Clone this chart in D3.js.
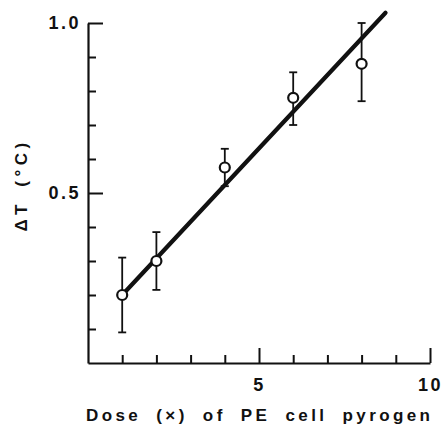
<!DOCTYPE html>
<html>
<head>
<meta charset="utf-8">
<script src="https://cdn.jsdelivr.net/npm/d3@7"></script>
<style>
	body { margin: 0; background: #fff; }
	text { font-family: 'Liberation Sans', Arial, sans-serif; font-weight: bold; fill: #111; }
</style>
</head>
<body>
<div id="chart"></div>
<script>
// Dose (x) vs fever response
const dose = [1, 2, 4, 6, 8];
const meanDT = [0.2, 0.3, 0.575, 0.78, 0.88];
const upperDT = [0.31, 0.385, 0.63, 0.855, 1.0];
const lowerDT = [0.09, 0.215, 0.52, 0.7, 0.77];
// regression line end points
const fitX = [1, 8.7];
const fitY = [0.2, 1.03];
const xTicks = [1, 2, 3, 4, 5, 6, 7, 8, 9, 10];
const yTicks = [0.1, 0.2, 0.3, 0.4, 0.5, 0.6, 0.7, 0.8, 0.9, 1.0];
const xLabels = [5, 10];
const yLabels = [0.5, 1.0];

const width = 444, height = 424;
const svg = d3.select('#chart').append('svg')
	.attr('width', width)
	.attr('height', height);

const x = d3.scaleLinear().domain([0, 10]).range([88, 430]);
const y = d3.scaleLinear().domain([0, 1]).range([363, 23]);

// Axes
const xAxis = d3.axisBottom(x)
	.tickValues(xTicks)
	.tickSize(-8)
	.tickSizeOuter(0)
	.tickPadding(15)
	.tickFormat(d => (xLabels.includes(d) ? d : ''));
const gx = svg.append('g')
	.attr('transform', 'translate(0,' + y(0) + ')')
	.call(xAxis);

const yAxis = d3.axisLeft(y)
	.tickValues(yTicks)
	.tickSize(-8)
	.tickSizeOuter(0)
	.tickPadding(7)
	.tickFormat(d => (yLabels.some(v => Math.abs(v - d) < 1e-9) ? d3.format('.1f')(d) : ''));
const gy = svg.append('g')
	.attr('transform', 'translate(' + x(0) + ',0)')
	.call(yAxis);

[gx, gy].forEach(g => {
	g.select('.domain').attr('stroke', '#111').attr('stroke-width', 2.2);
	g.selectAll('.tick line').attr('stroke', '#111').attr('stroke-width', 2);
	g.selectAll('.tick text')
		.style('font-size', '18px')
		.style('letter-spacing', '2.5px')
		.attr('fill', '#111');
});
gx.selectAll('.tick').filter(d => xLabels.includes(d)).select('line').attr('y2', -15);
gy.selectAll('.tick').filter(d => yLabels.some(v => Math.abs(v - d) < 1e-9)).select('line').attr('x2', 15);

// Fitted line
svg.append('path')
	.datum(fitX.map((d, i) => [d, fitY[i]]))
	.attr('d', d3.line().x(d => x(d[0])).y(d => y(d[1])))
	.attr('fill', 'none')
	.attr('stroke', '#111')
	.attr('stroke-width', 4.2)
	.attr('stroke-linecap', 'round');

// Error bars
const pts = svg.append('g');
dose.forEach((d, i) => {
	const g = pts.append('g').attr('stroke', '#111').attr('stroke-width', 1.8);
	g.append('line')
		.attr('x1', x(d)).attr('x2', x(d))
		.attr('y1', y(upperDT[i])).attr('y2', y(lowerDT[i]));
	[upperDT[i], lowerDT[i]].forEach(v => {
		g.append('line')
			.attr('x1', x(d) - 4).attr('x2', x(d) + 4)
			.attr('y1', y(v)).attr('y2', y(v));
	});
});

// Points
pts.selectAll('circle')
	.data(dose)
	.enter()
	.append('circle')
	.attr('cx', d => x(d))
	.attr('cy', (d, i) => y(meanDT[i]))
	.attr('r', 5)
	.attr('fill', '#fff')
	.attr('stroke', '#111')
	.attr('stroke-width', 2.2);

// Titles
svg.append('text')
	.attr('x', 86)
	.attr('y', 421)
	.style('font-size', '17px')
	.style('letter-spacing', '3.4px')
	.style('word-spacing', '7px')
	.text('Dose (\u00d7) of PE cell pyrogen');

svg.append('text')
	.attr('transform', 'translate(27,185) rotate(-90)')
	.attr('text-anchor', 'middle')
	.style('font-size', '17px')
	.style('letter-spacing', '4.5px')
	.style('word-spacing', '4px')
	.text('\u0394T (\u00b0C)');
</script>
</body>
</html>
